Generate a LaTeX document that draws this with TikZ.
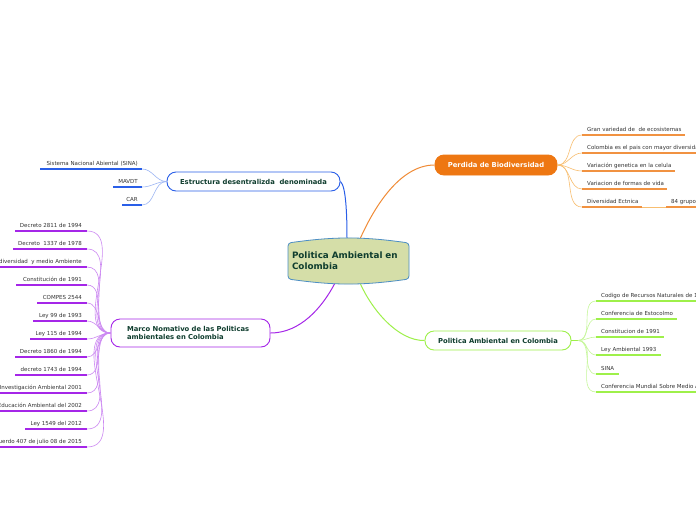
\documentclass[tikz,border=0pt]{standalone}
\usepackage{fontspec}
\setmainfont{DejaVu Sans}
\usetikzlibrary{calc}
\definecolor{estrblue}{HTML}{2A5FE8}
\definecolor{perdorange}{HTML}{EE7712}
\definecolor{perdlight}{HTML}{F8BE70}
\definecolor{polgreen}{HTML}{9EF04A}
\definecolor{pollight}{HTML}{C6F79A}
\definecolor{marcopurple}{HTML}{A526E8}
\definecolor{marcolight}{HTML}{CC88F2}
\definecolor{bluelight}{HTML}{9DB6F4}
\definecolor{nodetext}{HTML}{0F3D2E}
\definecolor{itemtext}{HTML}{333333}
\definecolor{corefill}{HTML}{D5DEA8}
\definecolor{coreline}{HTML}{4C8EC4}

\tikzset{
  topic/.style={rounded corners=9pt, line width=0.9pt, fill=white, text=nodetext,
    font=\fontsize{6.8}{8}\selectfont\bfseries, inner sep=0pt},
  item/.style={font=\fontsize{5.5}{6.5}\selectfont, text=itemtext, inner sep=0pt},
  fan/.style={line width=0.6pt},
  uline/.style={line width=1.6pt},
}

\begin{document}
\begin{tikzpicture}[x=1pt,y=-1pt]
		%%%%% START %%%%%
		\clip (0,0) rectangle (696,520);
		\fill[white] (0,0) rectangle (696,520);
		
		% points on the central shape
		\coordinate (coreTL) at (347,239);
		\coordinate (coreTR) at (360,239);
		\coordinate (coreBL) at (335,283);
		\coordinate (coreBR) at (360,283);
		
		% main topics
		\node[topic, draw=estrblue, minimum width=173pt, minimum height=19pt] (estr) at (253.5,181.5) {Estructura desentralizda\ \ denominada};
		\node[topic, draw=perdorange, fill=perdorange, text=white, minimum width=122pt, minimum height=20pt] (perd) at (496,165) {Perdida de Biodiversidad};
		\node[topic, draw=polgreen, minimum width=146pt, minimum height=19pt] (polg) at (498,340.5) {Politica Ambiental en Colombia};
		\node[topic, draw=marcopurple, minimum width=159pt, minimum height=28pt, text width=127pt, inner xsep=16pt, align=left] (marco) at (190.5,333) {Marco Nomativo de las Politicas\\ambientales en Colombia};
		
		% branches
		\draw[estrblue, line width=1pt] (estr.east) .. controls (346,186) and (347,215) .. (coreTL);
		\draw[perdorange!85, line width=1pt] (coreTR) .. controls (372,212) and (398,165) .. (perd.west);
		\draw[polgreen, line width=1pt] (coreBR) .. controls (372,310) and (398,341) .. (polg.west);
		\draw[marcopurple, line width=1pt] (coreBL) .. controls (322,308) and (300,333) .. (marco.east);
		
		% central shape
		\draw[fill=corefill, draw=coreline, line width=0.8pt, rounded corners=3pt] (288,243) to[bend left=8] (409,243) -- (409,279) to[bend left=8] (288,279) -- cycle;
		\node[text=nodetext, font=\fontsize{8.8}{11}\selectfont\bfseries, text width=113pt, align=left, inner sep=0pt] (core) at (348.5,260.5) {Politica Ambiental en\\Colombia};
		
		% Estructura items
		\foreach \yy/\xs/\t [count=\i] in {169/40/Sistema Nacional Abiental (SINA), 187/113/MAVDT, 205/122/CAR}
		{
			\coordinate (ee\i) at (142,\yy);
			\draw[fan, bluelight] (estr.west) to[out=180,in=0] (ee\i);
			\draw[uline, estrblue] (\xs,\yy) -- (ee\i);
			\node[item, anchor=base east] (estr\i) at (138,\yy-4) {\t};
		}
		
		% Perdida items
		\foreach \yy/\xe/\t [count=\i] in {135/685/Gran variedad de\ \ de ecosistemas, 153/705/Colombia es el pais con mayor diversidad de especies, 171/675/Variación genetica en la celula, 189/667/Variacion de formas de vida, 207/642/Diversidad Ectnica}
		{
			\coordinate (pe\i) at (582,\yy);
			\draw[fan, perdlight] (perd.east) to[out=0,in=180] (pe\i);
			\draw[uline, perdorange!80] (pe\i) -- (\xe,\yy);
			\node[item, anchor=base west] (perd\i) at (587,\yy-4) {\t};
		}
		\coordinate (etn) at (666,207);
		\draw[fan, perdlight] (642,207) -- (etn);
		\draw[uline, perdorange!80] (etn) -- (705,207);
		\node[item, anchor=base west] (perd6) at (671,203) {84 grupos étnicos};
		
		% Politica Ambiental items
		\coordinate (gfan) at (578,340.5);
		\draw[fan, polgreen] (polg.east) -- (gfan);
		\foreach \yy/\xe/\t [count=\i] in {301/705/Codigo de Recursos Naturales de 1974, 319/677/Conferencia de Estocolmo, 337/664/Constitucion de 1991, 355/661/Ley Ambiental 1993, 374/619/SINA, 392/705/Conferencia Mundial Sobre Medio Ambiente}
		{
			\coordinate (ge\i) at (596,\yy);
			\draw[fan, pollight] (gfan) to[out=0,in=180] (ge\i);
			\draw[uline, polgreen] (ge\i) -- (\xe,\yy);
			\node[item, anchor=base west] (polg\i) at (601,\yy-4) {\t};
		}
		
		% Marco items
		\foreach \yy/\xs/\t [count=\i] in {231/15/Decreto 2811 de 1994, 249/13/Decreto\ \ 1337 de 1978, 267/-5/Ley de Biodiversidad\ \ y medio Ambiente, 285/16/Constitución de 1991, 303/37/COMPES 2544, 321/33/Ley 99 de 1993, 339/30/Ley 115 de 1994, 357/15/Decreto 1860 de 1994, 375/15/decreto 1743 de 1994, 393/-5/Política de Investigación Ambiental 2001, 411/-5/Política de Educación Ambiental del 2002, 429/25/Ley 1549 del 2012, 447/-5/Acuerdo 407 de julio 08 de 2015}
		{
			\coordinate (me\i) at (87,\yy);
			\draw[fan, marcolight] (marco.west) to[out=180,in=0] (me\i);
			\draw[uline, marcopurple] (\xs,\yy) -- (me\i);
			\node[item, anchor=base east] (marco\i) at (82,\yy-4) {\t};
		}
		%%%%% END %%%%%
\end{tikzpicture}
\end{document}
